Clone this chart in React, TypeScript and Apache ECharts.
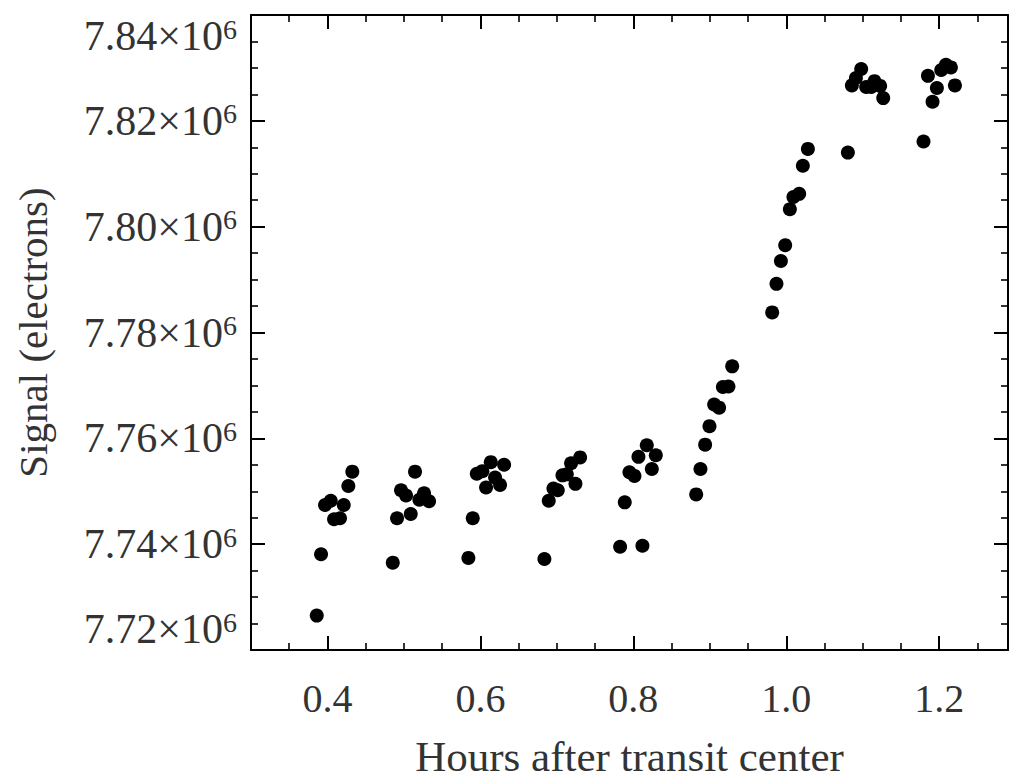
import React, { useEffect, useRef } from "react";
import * as echarts from "echarts";

const hours = [
  0.386, 0.3916, 0.3968, 0.4043, 0.4086, 0.4164, 0.4213, 0.4273, 0.4325,
  0.4854, 0.491, 0.4962, 0.5028, 0.5089, 0.5145, 0.5202, 0.5263, 0.5329,
  0.5843, 0.59, 0.5953, 0.6026, 0.6074, 0.6136, 0.6192, 0.6257, 0.631,
  0.6837, 0.6894, 0.6955, 0.7012, 0.7073, 0.713, 0.7186, 0.7243, 0.7304,
  0.7827, 0.7888, 0.7949, 0.8015, 0.8067, 0.8119, 0.8176, 0.8242, 0.8294,
  0.8822, 0.8878, 0.8939, 0.8996, 0.9057, 0.9122, 0.9171, 0.9244, 0.9293,
  0.9816, 0.9872, 0.993, 0.9986, 1.0047, 1.0094, 1.0169, 1.0217, 1.0283,
  1.0806, 1.0858, 1.0911, 1.098, 1.1045, 1.1111, 1.1154, 1.1228, 1.1268,
  1.1795, 1.1853, 1.1913, 1.197, 1.2027, 1.2088, 1.2153, 1.2206,
];

const signal = [
  7726500, 7738100, 7747400, 7748200, 7744700, 7744900, 7747400, 7751000, 7753700,
  7736500, 7744900, 7750200, 7749200, 7745700, 7753700, 7748400, 7749600, 7748100,
  7737400, 7744900, 7753300, 7753800, 7750700, 7755500, 7752600, 7751200, 7755000,
  7737200, 7748200, 7750500, 7750200, 7753000, 7753200, 7755300, 7751400, 7756400,
  7739500, 7747900, 7753600, 7752900, 7756500, 7739700, 7758700, 7754200, 7756800,
  7749400, 7754200, 7758800, 7762300, 7766400, 7765800, 7769700, 7769800, 7773600,
  7783800, 7789200, 7793500, 7796500, 7803300, 7805600, 7806200, 7811500, 7814700,
  7814000, 7826700, 7828100, 7829800, 7826400, 7826400, 7827500, 7826600, 7824300,
  7816100, 7828500, 7823600, 7826200, 7829600, 7830600, 7830100, 7826700,
];

const xMajorTicks = [0.4, 0.6, 0.8, 1.0, 1.2];
const xMinorTicks = [
  0.35, 0.45, 0.5, 0.55, 0.65, 0.7, 0.75, 0.85, 0.9, 0.95, 1.05, 1.1, 1.15, 1.25,
];
const xLabel = "Hours after transit center";
const yLabel = "Signal (electrons)";

const FONT = "'Liberation Serif', 'Times New Roman', serif";
const TEXT = "#333";

export default function App() {
  const ref = useRef<HTMLDivElement>(null);
  useEffect(() => {
    document.body.style.margin = "0";
    const chart = echarts.init(ref.current!, null, { renderer: "svg" });
    const line = { color: "#000", width: 2 };
    const xRange = { min: 0.3, max: 1.29 };
    const yRange = { min: 7720000, max: 7840000, interval: 20000 };
    const xBase = (position: string, major: boolean, showLine: boolean) => ({
      type: "value",
      position,
      ...xRange,
      axisLine: { show: showLine, onZero: false, lineStyle: line },
      axisTick: {
        show: true,
        inside: true,
        length: major ? 14 : 7,
        customValues: major ? xMajorTicks : xMinorTicks,
        lineStyle: { color: "#000", width: major ? 2 : 1.6 },
      },
      axisLabel: { show: false },
      splitLine: { show: false },
    });
    const yBase = (position: string) => ({
      type: "value",
      position,
      ...yRange,
      axisLine: { show: true, onZero: false, lineStyle: line },
      axisTick: { show: true, inside: true, length: 14, lineStyle: { color: "#000", width: 2 } },
      minorTick: { show: true, splitNumber: 4, length: 7, lineStyle: { color: "#000", width: 1.6 } },
      axisLabel: { show: false },
      splitLine: { show: false },
      minorSplitLine: { show: false },
    });
    chart.setOption({
      animation: false,
      backgroundColor: "#fff",
      grid: { left: 251, right: 2, top: 15, bottom: 132, containLabel: false },
      xAxis: [
        {
          ...xBase("bottom", true, true),
          axisLabel: {
            show: true,
            customValues: xMajorTicks,
            formatter: (v: number) => v.toFixed(1),
            fontSize: 40,
            fontFamily: FONT,
            color: TEXT,
            margin: 28,
          },
          name: xLabel,
          nameLocation: "middle",
          nameGap: 85,
          nameTextStyle: { fontSize: 43, fontFamily: FONT, color: TEXT },
        },
        xBase("bottom", false, false),
        xBase("top", true, true),
        xBase("top", false, false),
      ],
      yAxis: [
        {
          ...yBase("left"),
          axisLabel: {
            show: true,
            margin: 14,
            verticalAlignMinLabel: "bottom",
            verticalAlignMaxLabel: "top",
            formatter: (v: number) => `{a|${(v / 1e6).toFixed(2)}×10}{s|6}`,
            rich: {
              a: { fontSize: 42, fontFamily: FONT, color: TEXT, lineHeight: 42 },
              s: { fontSize: 28, fontFamily: FONT, color: TEXT, lineHeight: 18, verticalAlign: "top" },
            },
          },
          name: yLabel,
          nameLocation: "middle",
          nameGap: 198,
          nameTextStyle: { fontSize: 41, fontFamily: FONT, color: TEXT },
        },
        yBase("right"),
      ],
      series: [
        {
          type: "scatter",
          xAxisIndex: 0,
          yAxisIndex: 0,
          symbol: "circle",
          symbolSize: 14,
          itemStyle: { color: "#000", opacity: 1 },
          data: hours.map((h, i) => [h, signal[i]]),
        },
      ],
    });
    return () => chart.dispose();
  }, []);
  return <div ref={ref} style={{ width: 1010, height: 783 }} />;
}
